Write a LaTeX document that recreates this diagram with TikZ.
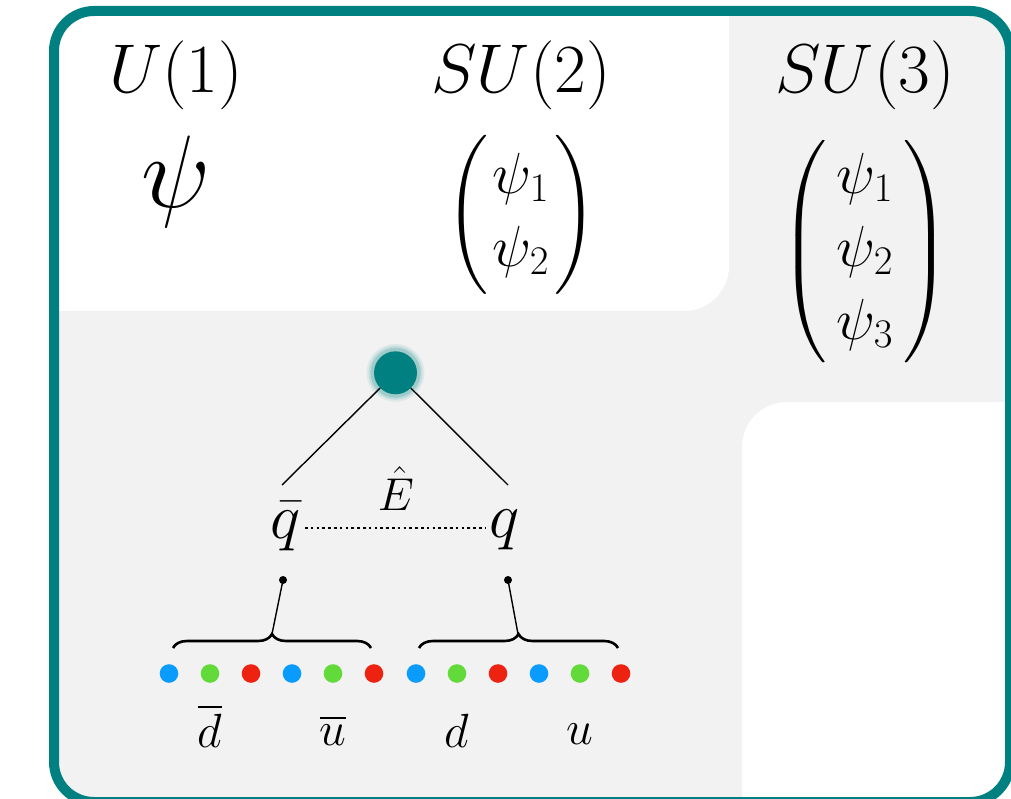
\RequirePackage{fix-cm}
\documentclass[tikz,border=0pt]{standalone}
\usepackage{amsmath}
\DeclareFontFamily{OMX}{cmex}{}
\DeclareFontShape{OMX}{cmex}{m}{n}{<->cmex10}{}
\usetikzlibrary{decorations.pathreplacing}
\definecolor{bgray}{HTML}{F2F2F2}
\definecolor{tealf}{HTML}{008080}
\definecolor{qblue}{HTML}{0A9BFF}
\definecolor{qgreen}{HTML}{62DA3A}
\definecolor{qred}{HTML}{EE2211}
\newcommand{\mymat}[2]{$\left(\vcenter{\hbox{\hspace{#2}\fontsize{58}{73}\selectfont$\begin{matrix}#1\end{matrix}$\hspace{#2}}}\right)$}
\tikzset{
  grp/.style={font=\fontsize{69}{83}\selectfont, inner sep=0pt, anchor=base},
  bigpsi/.style={font=\fontsize{103}{124}\selectfont, inner sep=0pt, anchor=base},
  mat/.style={font=\fontsize{53}{64}\selectfont, inner sep=0pt},
  qlab/.style={font=\fontsize{64}{77}\selectfont, inner sep=3pt, anchor=base},
  elab/.style={font=\fontsize{46}{55}\selectfont, inner sep=0pt, anchor=base},
  flab/.style={font=\fontsize{48}{58}\selectfont, inner sep=0pt, anchor=base},
  quark/.style={circle, inner sep=0pt, minimum size=18.6pt},
  conn/.style={line width=1.4pt, black},
  bracestyle/.style={decorate, decoration={brace, amplitude=14pt}, line width=2.6pt},
  tick/.style={circle, fill=black, inner sep=0pt, minimum size=8pt}
}
\begin{document}
\begin{tikzpicture}[x=1pt,y=-1pt]
\useasboundingbox (0,0) rectangle (1011,799);
\fill[white] (0,0) rectangle (1011,799);
% panels
\begin{scope}
  \clip[rounded corners=40pt] (54,11) rectangle (1010,802);
  \fill[bgray] (0,0) rectangle (1100,900);
  \fill[white, rounded corners=45pt] (-100,-100) rectangle (729,311);
  \fill[white, rounded corners=45pt] (742,402) rectangle (1200,1000);
\end{scope}
\draw[tealf, line width=10pt, rounded corners=40pt] (54,11) rectangle (1010,802);

% headers
\node[grp] (u1) at (176,93) {$U(1)$};
\node[grp] (su2) at (521,93) {$SU(2)$};
\node[grp] (su3) at (865,93) {$SU(3)$};
\node[bigpsi] (psi) at (176,208) {$\psi$};
\node[mat] (m2) at (521,215) {\mymat{\psi_1\\ \psi_2}{5pt}};
\node[mat] (m3) at (865,251.5) {\mymat{\psi_1\\ \psi_2\\ \psi_3}{10pt}};

% tree
\foreach \r/\o in {29/0.08, 27/0.12, 25/0.18} \fill[tealf, opacity=\o] (395.5,372.8) circle (\r pt);
\node[circle, fill=tealf, inner sep=0pt, minimum size=43pt] (top) at (395.5,372.8) {};
\coordinate (lq) at (282,485);
\coordinate (rq) at (508,485);
\draw[conn] (top) -- (lq);
\draw[conn] (top) -- (rq);
\node[qlab] (qbar) at (286,538) {$\bar{q}$};
\node[qlab] (q) at (505,537) {$q$};
\node[elab] (E) at (396,510) {$\hat{E}$};
\coordinate (dl) at (305,528);
\coordinate (dr) at (486,528);
\draw[line width=1.2pt, dash pattern=on 2.6pt off 3.2pt] (dl) -- (dr);

% ticks and braces
\node[tick] (t1) at (283,580) {};
\node[tick] (t2) at (508,580) {};
\coordinate (b1s) at (173,648);
\coordinate (b1e) at (371,648);
\coordinate (b2s) at (419,648);
\coordinate (b2e) at (618,648);
\coordinate (tip1) at (272,634);
\coordinate (tip2) at (518,634);
\draw[bracestyle] (b1s) -- (b1e);
\draw[bracestyle] (b2s) -- (b2e);
\draw[conn] (t1.center) -- (tip1);
\draw[conn] (t2.center) -- (tip2);

% quark dots
\foreach \i/\x/\c in {1/169/qblue,2/210/qgreen,3/251/qred,4/292/qblue,5/333/qgreen,6/374/qred,7/416/qblue,8/457/qgreen,9/498/qred,10/539/qblue,11/580/qgreen,12/621/qred}
  \node[quark, fill=\c] (d\i) at (\x,673.5) {};

% labels
\node[flab] (ldbar) at (210,747) {$\overline{d}$};
\node[flab] (lubar) at (333,745) {$\overline{u}$};
\node[flab] (ld) at (457,747) {$d$};
\node[flab] (lu) at (580,744) {$u$};
\end{tikzpicture}
\end{document}
